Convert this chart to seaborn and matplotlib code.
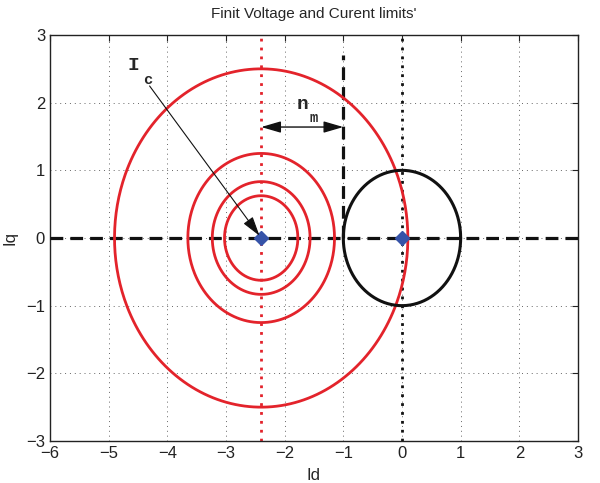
import numpy as np
import pandas as pd
import matplotlib
matplotlib.use("Agg")
import matplotlib.pyplot as plt
import seaborn as sns

# Data
voltage_center = (-2.4, 0.0)
voltage_radii = [2.5, 1.25, 0.8333, 0.625]
current_center = (0.0, 0.0)
current_radius = 1.0
vline_limit_x = -1.0
vline_limit_top = 2.7
xticks = [-6, -5, -4, -3, -2, -1, 0, 1, 2, 3]
yticks = [-3, -2, -1, 0, 1, 2, 3]

sns.set_style("white")
plt.rcParams['font.family'] = ['Liberation Sans', 'DejaVu Sans']

fig = plt.figure(figsize=(6, 4.83), dpi=100)
ax = fig.add_axes([0.0833, 0.087, 0.88, 0.8405])

theta = np.linspace(0, 2 * np.pi, 400)
rows = []
for i, r in enumerate(voltage_radii):
    for t in theta:
        rows.append({"x": voltage_center[0] + r * np.cos(t),
                     "y": voltage_center[1] + r * np.sin(t), "id": f"v{i}"})
vdf = pd.DataFrame(rows)
cdf = pd.DataFrame({"x": current_center[0] + current_radius * np.cos(theta),
                    "y": current_center[1] + current_radius * np.sin(theta)})

red = "#e3232b"
# reference lines
ax.plot([voltage_center[0]] * 2, [-3, 3], color=red, ls=(0, (1, 2.2)), lw=2, zorder=2)
ax.plot([0, 0], [-3, 3], color="#111111", ls=(0, (1, 2.2)), lw=2, zorder=2)
ax.plot([-6, 3], [0, 0], color="#111111", ls=(0, (4, 2.2)), lw=2.3, zorder=3)
ax.plot([vline_limit_x] * 2, [0, vline_limit_top], color="#111111", ls=(0, (4, 2.2)), lw=2.3, zorder=3)

sns.lineplot(data=vdf, x="x", y="y", units="id", estimator=None, sort=False,
             color=red, lw=2, ax=ax, zorder=4)
sns.lineplot(data=cdf, x="x", y="y", estimator=None, sort=False,
             color="#111111", lw=2.2, ax=ax, zorder=4)

ax.plot([voltage_center[0], current_center[0]], [voltage_center[1], current_center[1]],
        ls="none", marker="D", ms=7.5, color="#3653a8", zorder=6)

# annotations
ax.annotate("", xy=(voltage_center[0], 0.0), xytext=(-4.33, 2.28),
            arrowprops=dict(arrowstyle="-|>,head_length=1.2,head_width=0.35", color="#111111", lw=0.8),
            zorder=7)
ax.text(-4.68, 2.55, "I", family="Liberation Mono", fontweight="bold", fontsize=14, va="center")
ax.text(-4.42, 2.34, "c", family="Liberation Mono", fontweight="bold", fontsize=11, va="center")
ax.annotate("", xy=(-2.4, 1.64), xytext=(-1.0, 1.64),
            arrowprops=dict(arrowstyle="<|-|>,head_length=1.2,head_width=0.35", color="#111111", lw=1,
                            shrinkA=0, shrinkB=0))
ax.text(-1.8, 1.97, "n", family="Liberation Mono", fontweight="bold", fontsize=14, va="center")
ax.text(-1.58, 1.78, "m", family="Liberation Mono", fontweight="bold", fontsize=10, va="center")

ax.set_xlim(-6, 3)
ax.set_ylim(-3, 3)
ax.set_xticks(xticks)
ax.set_yticks(yticks)
ax.set_xticklabels([f"\u2212{abs(v)}" if v < 0 else str(v) for v in xticks])
ax.set_yticklabels([f"\u2212{abs(v)}" if v < 0 else str(v) for v in yticks])
ax.tick_params(direction="in", length=4, labelsize=12, top=True, right=True, width=0.8, colors="#222222")
ax.grid(True, ls=(0, (1, 4)), color="#666666", lw=0.7)
for s in ax.spines.values():
    s.set_color("#222222")
    s.set_linewidth(1)
ax.set_xlabel("Id", fontsize=12, labelpad=5)
ax.set_ylabel("Iq", fontsize=12, labelpad=6)
ax.set_title("Finit Voltage and Curent limits'", fontsize=11, pad=12)

fig.savefig("out.png", dpi=100)
